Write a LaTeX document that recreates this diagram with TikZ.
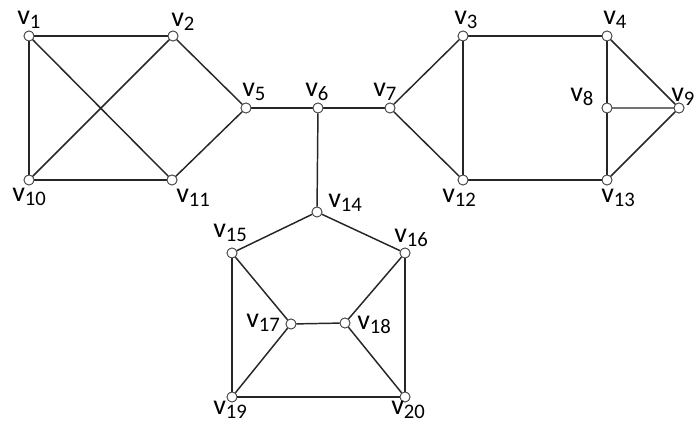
\documentclass[tikz,border=0pt]{standalone}
\usepackage{fontspec}
\setmainfont{Carlito}
\newcommand{\vx}[1]{v\raisebox{-2.5pt}{\fontsize{15.5}{15.5}\selectfont #1}}
\tikzset{
  vert/.style={circle, draw=black!75, fill=white, line width=0.6pt, inner sep=0pt, minimum size=7.5pt},
  edge/.style={line width=1.1pt, black!85},
  thinedge/.style={line width=0.8pt, black!55},
  lab/.style={anchor=base west, inner sep=0pt, font=\fontsize{21}{21}\selectfont}
}
\begin{document}
\begin{tikzpicture}[x=0.75pt, y=-0.75pt]
\useasboundingbox (0,0) rectangle (696,427);
% vertices
\node[vert] (v1) at (29,36) {};
\node[vert] (v2) at (173,36) {};
\node[vert] (v3) at (463,36) {};
\node[vert] (v4) at (607,36) {};
\node[vert] (v5) at (246,108) {};
\node[vert] (v6) at (318,108) {};
\node[vert] (v7) at (390,108) {};
\node[vert] (v8) at (607,108) {};
\node[vert] (v9) at (679,108) {};
\node[vert] (v10) at (29,180) {};
\node[vert] (v11) at (172,180) {};
\node[vert] (v12) at (463,180) {};
\node[vert] (v13) at (607,180) {};
\node[vert] (v14) at (317,212) {};
\node[vert] (v15) at (232,253) {};
\node[vert] (v16) at (405,253) {};
\node[vert] (v17) at (291,324) {};
\node[vert] (v18) at (345,323) {};
\node[vert] (v19) at (232,397) {};
\node[vert] (v20) at (405,397) {};
% edges
\draw[edge] (v1) -- (v2);
\draw[edge] (v1) -- (v10);
\draw[edge] (v1) -- (v11);
\draw[edge] (v2) -- (v10);
\draw[edge] (v2) -- (v5);
\draw[edge] (v5) -- (v11);
\draw[edge] (v10) -- (v11);
\draw[edge] (v5) -- (v6);
\draw[edge] (v6) -- (v7);
\draw[edge] (v6) -- (v14);
\draw[edge] (v7) -- (v3);
\draw[edge] (v7) -- (v12);
\draw[edge] (v3) -- (v12);
\draw[edge] (v3) -- (v4);
\draw[edge] (v12) -- (v13);
\draw[edge] (v4) -- (v8);
\draw[edge] (v8) -- (v13);
\draw[edge] (v4) -- (v9);
\draw[edge] (v9) -- (v13);
\draw[thinedge] (v8) -- (v9);
\draw[edge] (v14) -- (v15);
\draw[edge] (v14) -- (v16);
\draw[edge] (v15) -- (v19);
\draw[edge] (v16) -- (v20);
\draw[edge] (v15) -- (v17);
\draw[edge] (v16) -- (v18);
\draw[edge] (v17) -- (v18);
\draw[edge] (v17) -- (v19);
\draw[edge] (v18) -- (v20);
\draw[edge] (v19) -- (v20);
% redraw vertices on top of edges
\foreach \n in {v1,v2,v3,v4,v5,v6,v7,v8,v9,v10,v11,v12,v13,v14,v15,v16,v17,v18,v19,v20}
  \node[vert] at (\n) {};
% labels
\node[lab] (l1) at (17,25) {\vx{1}};
\node[lab] (l2) at (171,27) {\vx{2}};
\node[lab] (l3) at (454,25) {\vx{3}};
\node[lab] (l4) at (603,25) {\vx{4}};
\node[lab] (l5) at (242,97) {\vx{5}};
\node[lab] (l6) at (305,97) {\vx{6}};
\node[lab] (l7) at (373,97) {\vx{7}};
\node[lab] (l8) at (570,102) {\vx{8}};
\node[lab] (l9) at (671,102) {\vx{9}};
\node[lab] (l10) at (12,202) {\vx{10}};
\node[lab] (l11) at (176,203) {\vx{11}};
\node[lab] (l12) at (442,203) {\vx{12}};
\node[lab] (l13) at (601,203) {\vx{13}};
\node[lab] (l14) at (328,208) {\vx{14}};
\node[lab] (l15) at (213,238) {\vx{15}};
\node[lab] (l16) at (394,243) {\vx{16}};
\node[lab] (l17) at (246,328) {\vx{17}};
\node[lab] (l18) at (357,330) {\vx{18}};
\node[lab] (l19) at (213,415) {\vx{19}};
\node[lab] (l20) at (391,415) {\vx{20}};
\end{tikzpicture}
\end{document}
